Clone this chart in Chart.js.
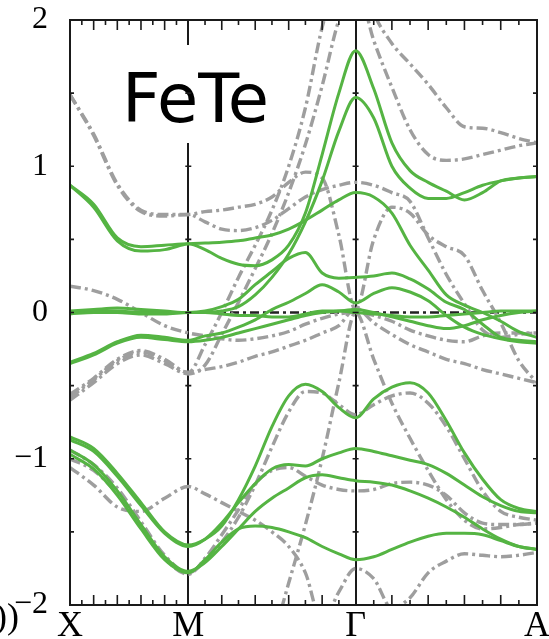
<!DOCTYPE html>
<html>
<head>
<meta charset="utf-8">
<script src="https://cdn.jsdelivr.net/npm/chart.js@4.4.1/dist/chart.umd.min.js"></script>
<style>
  html, body { margin: 0; padding: 0; background: #fff; }
</style>
</head>
<body>
<canvas id="bands" width="549" height="639"></canvas>
<script>
// high-symmetry points along the path
const symK = [0, 0.5, 1.2071, 1.9738];
const symLabels = ['X', 'M', 'Γ', 'A'];

// sampling points along X - M - Γ - A
const kPath = [0, 0.1, 0.2, 0.3, 0.4, 0.5,
  0.5707, 0.6414, 0.7121, 0.7828, 0.8536, 0.9243, 0.995, 1.0657, 1.1364, 1.2071,
  1.2838, 1.3605, 1.4371, 1.5138, 1.5905, 1.6671, 1.7438, 1.8205, 1.8971, 1.9738];

// green (solid) bands, energy in eV
const green1 = [0.87, 0.74, 0.51, 0.45, 0.46, 0.47, 0.43, 0.37, 0.33, 0.32, 0.36, 0.46, 0.68, 1.08, 1.50, 1.79, 1.53, 1.16, 0.97, 0.89, 0.83, 0.77, 0.82, 0.90, 0.92, 0.93];
const green2 = [0.87, 0.72, 0.49, 0.42, 0.43, 0.47, 0.475, 0.48, 0.49, 0.51, 0.53, 0.57, 0.63, 0.70, 0.77, 0.82, 0.79, 0.68, 0.46, 0.29, 0.12, 0.05, 0.0, -0.06, -0.13, -0.17];
const green3 = [0.01, 0.02, 0.03, 0.02, 0.01, 0.0, 0.0, 0.01, 0.04, 0.12, 0.24, 0.40, 0.62, 0.90, 1.24, 1.47, 1.33, 1.0, 0.85, 0.78, 0.78, 0.82, 0.87, 0.90, 0.92, 0.93];
const green4 = [0.0, 0.01, 0.01, 0.0, 0.0, 0.0, 0.01, 0.04, 0.09, 0.19, 0.28, 0.37, 0.41, 0.27, 0.235, 0.24, 0.25, 0.27, 0.23, 0.16, 0.07, 0.02, -0.08, -0.17, -0.19, -0.20];
const green5 = [-0.34, -0.28, -0.20, -0.155, -0.17, -0.19, -0.16, -0.14, -0.10, -0.05, 0.02, 0.07, 0.13, 0.19, 0.14, 0.065, 0.13, 0.17, 0.14, 0.08, -0.02, -0.10, -0.15, -0.18, -0.20, -0.21];
const green6 = [-0.35, -0.29, -0.21, -0.17, -0.185, -0.20, -0.19, -0.17, -0.14, -0.11, -0.08, -0.05, -0.02, 0.0, 0.01, 0.02, 0.0, -0.03, -0.06, -0.09, -0.11, -0.09, -0.05, -0.02, 0.0, 0.01];
const green7 = [-0.01, 0.0, 0.0, -0.01, -0.01, 0.0, 0.0, -0.01, -0.02, -0.02, -0.03, -0.03, -0.01, 0.01, 0.01, 0.0, -0.01, -0.02, -0.03, -0.03, -0.02, -0.01, 0.0, 0.01, 0.01, 0.01];
const green8 = [-0.85, -0.93, -1.10, -1.30, -1.50, -1.59, -1.55, -1.46, -1.28, -1.05, -0.78, -0.57, -0.49, -0.54, -0.65, -0.72, -0.59, -0.51, -0.48, -0.55, -0.74, -0.96, -1.14, -1.28, -1.34, -1.36];
const green9 = [-0.87, -0.95, -1.12, -1.32, -1.51, -1.60, -1.55, -1.44, -1.30, -1.17, -1.07, -1.04, -1.05, -1.00, -0.96, -0.93, -0.95, -0.98, -1.01, -1.04, -1.10, -1.18, -1.26, -1.32, -1.36, -1.37];
const green10 = [-0.94, -1.04, -1.22, -1.45, -1.67, -1.77, -1.71, -1.60, -1.48, -1.36, -1.27, -1.20, -1.13, -1.11, -1.13, -1.15, -1.16, -1.18, -1.22, -1.27, -1.33, -1.40, -1.48, -1.55, -1.60, -1.62];
const green11 = [-0.97, -1.07, -1.25, -1.48, -1.69, -1.78, -1.69, -1.57, -1.48, -1.46, -1.47, -1.50, -1.54, -1.60, -1.65, -1.69, -1.67, -1.62, -1.57, -1.53, -1.51, -1.51, -1.52, -1.56, -1.60, -1.62];

// grey (dash-dot) bands
const grey1 = [1.49, 1.22, 0.88, 0.70, 0.67, 0.67, 0.69, 0.70, 0.72, 0.74, 0.79, 0.89, 0.96, 0.92, 0.53, 0.02, 0.50, 0.72, 0.68, 0.53, 0.45, 0.39, 0.15, -0.07, -0.33, -0.48];
const grey2 = [1.49, 1.21, 0.87, 0.69, 0.66, 0.67, 0.62, 0.57, 0.56, 0.58, 0.63, 0.71, 0.79, 0.84, 0.87, 0.89, 0.87, 0.82, 0.76, 0.51, 0.26, 0.06, -0.12, -0.17, -0.15, -0.14];
const grey3 = [0.18, 0.15, 0.09, 0.0, -0.09, -0.14, -0.16, -0.18, -0.19, -0.18, -0.16, -0.13, -0.08, -0.04, -0.01, 0.0, -0.02, -0.06, -0.12, -0.16, -0.19, -0.20, -0.16, -0.14, -0.14, -0.14];
const grey4 = [-0.58, -0.46, -0.33, -0.27, -0.33, -0.41, -0.39, -0.37, -0.34, -0.30, -0.27, -0.23, -0.19, -0.14, -0.09, 0.03, -0.07, -0.15, -0.22, -0.27, -0.32, -0.35, -0.39, -0.42, -0.45, -0.48];
const grey5 = [-0.56, -0.45, -0.32, -0.26, -0.32, -0.41, -0.22, 0.0, 0.24, 0.46, 0.70, 1.0, 1.4, 1.95, 2.3, 2.45, 2.05, 1.84, 1.70, 1.56, 1.40, 1.27, 1.26, 1.23, 1.19, 1.16];
const grey6 = [-0.60, -0.48, -0.35, -0.29, -0.35, -0.42, -0.36, -0.15, 0.07, 0.30, 0.54, 0.82, 1.15, 1.55, 2.0, 2.25, 1.86, 1.54, 1.25, 1.08, 1.04, 1.05, 1.08, 1.11, 1.14, 1.16];
const grey7 = [-0.94, -1.04, -1.20, -1.43, -1.66, -1.78, -1.70, -1.57, -1.40, -1.18, -0.92, -0.68, -0.54, -0.55, -0.63, -0.70, -0.63, -0.57, -0.55, -0.62, -0.78, -1.00, -1.22, -1.36, -1.40, -1.42];
const grey8 = [-1.00, -1.08, -1.24, -1.46, -1.68, -1.79, -1.68, -1.52, -1.35, -1.17, -1.08, -1.06, -1.12, -1.18, -1.21, -1.22, -1.21, -1.17, -1.16, -1.18, -1.25, -1.37, -1.44, -1.45, -1.45, -1.44];
const grey9 = [-1.06, -1.18, -1.33, -1.36, -1.27, -1.19, -1.24, -1.30, -1.36, -1.42, -1.50, -1.60, -1.78, -2.12, -1.91, -1.75, -1.82, -2.02, -1.95, -1.78, -1.70, -1.65, -1.66, -1.67, -1.66, -1.64];
const grey10 = [null, null, null, null, null, null, null, null, null, -2.6, -2.25, -1.85, -1.45, -1.0, -0.48, 0.0, -0.32, -0.62, -0.86, -1.08, -1.28, -1.42, -1.48, -1.47, -1.45, -1.44];

const greenBands = [green1, green2, green3, green4, green5, green6, green7, green8, green9, green10, green11];
const greyBands = [grey1, grey2, grey3, grey4, grey5, grey6, grey7, grey8, grey9, grey10];

const GREEN = '#55b443';
const GREY = '#9e9e9e';

function toPoints(band) {
    return kPath.map((k, i) => ({ x: k, y: band[i] }));
}

const datasets = [];
greenBands.forEach(function (b) {
    datasets.push({ data: toPoints(b), borderColor: GREEN, borderWidth: 3, order: 1 });
});
greyBands.forEach(function (b) {
    datasets.push({ data: toPoints(b), borderColor: GREY, borderWidth: 3.4, borderDash: [11, 4, 3, 4], order: 2 });
});
// Fermi level
datasets.push({
    data: [{ x: symK[0], y: 0 }, { x: symK[3], y: 0 }],
    borderColor: '#222', borderWidth: 2.4, borderDash: [9, 4, 3, 4], order: 3, cubicInterpolationMode: 'default', tension: 0
});

// frame, inward ticks and the material label
const framePlugin = {
    id: 'frame',
    beforeDatasetsDraw(chart) {
        const ctx = chart.ctx;
        ctx.save();
        ctx.fillStyle = '#fff';
        ctx.fillRect(105, 45, 180, 98);
        ctx.font = '67px "DejaVu Sans"';
        const w = ctx.measureText('FeTe').width;
        ctx.translate(122, 122);
        ctx.scale(147 / w, 1);
        ctx.fillStyle = '#000';
        ctx.textBaseline = 'alphabetic';
        ctx.fillText('FeTe', 0, 0);
        ctx.restore();
    },
    afterDatasetsDraw(chart) {
        const { ctx, chartArea: a, scales: { x, y } } = chart;
        ctx.save();
        ctx.strokeStyle = '#1a1a1a';
        ctx.lineWidth = 1.6;
        ctx.beginPath();
        // ticks along k, ten per segment
        for (let s = 0; s < symK.length - 1; s++) {
            for (let j = 1; j < 10; j++) {
                const px = x.getPixelForValue(symK[s] + (symK[s + 1] - symK[s]) * j / 10);
                const len = j % 2 === 0 ? 10 : 5;
                ctx.moveTo(px, a.bottom); ctx.lineTo(px, a.bottom - len);
                ctx.moveTo(px, a.top); ctx.lineTo(px, a.top + len);
            }
        }
        // ticks along energy
        for (let e = -1.5; e <= 1.5; e += 0.5) {
            const py = y.getPixelForValue(e);
            ctx.moveTo(a.left, py); ctx.lineTo(a.left + 4, py);
            ctx.moveTo(a.right, py); ctx.lineTo(a.right - 4, py);
            [symK[1], symK[2]].forEach(function (k) {
                const px = x.getPixelForValue(k);
                ctx.moveTo(px - 3, py); ctx.lineTo(px + 3, py);
            });
        }
        ctx.stroke();
        ctx.lineWidth = 2;
        ctx.strokeRect(a.left, a.top, a.right - a.left, a.bottom - a.top);
        // clipped label fragment from the neighbouring panel
        ctx.fillStyle = '#000';
        ctx.font = '36px "Liberation Serif"';
        ctx.textAlign = 'right';
        ctx.textBaseline = 'alphabetic';
        ctx.fillText('0))', 19, 628);
        ctx.restore();
    }
};

new Chart(document.getElementById('bands'), {
    type: 'line',
    data: { datasets: datasets },
    options: {
        responsive: false,
        animation: false,
        devicePixelRatio: 1,
        layout: { padding: { top: 20, right: 12, left: 0, bottom: 0 } },
        elements: {
            point: { radius: 0 },
            line: { cubicInterpolationMode: 'monotone', fill: false }
        },
        plugins: { legend: { display: false }, tooltip: { enabled: false } },
        scales: {
            x: {
                type: 'linear',
                min: symK[0],
                max: symK[3],
                afterBuildTicks: function (axis) {
                    axis.ticks = symK.map(v => ({ value: v }));
                },
                afterFit: function (axis) {
                    axis.height = 34;
                    axis.paddingLeft = 0;
                    axis.paddingRight = 0;
                },
                ticks: {
                    autoSkip: false,
                    maxRotation: 0,
                    padding: 0,
                    color: '#000',
                    font: { family: 'Liberation Serif', size: 36 },
                    callback: function (value, index) { return symLabels[index]; }
                },
                grid: { color: '#1a1a1a', lineWidth: 2, drawTicks: false },
                border: { display: false }
            },
            y: {
                min: -2,
                max: 2,
                afterFit: function (axis) {
                    axis.width = 70;
                    axis.paddingTop = 0;
                    axis.paddingBottom = 0;
                },
                ticks: {
                    stepSize: 1,
                    padding: 14,
                    color: '#000',
                    font: { family: 'Liberation Serif', size: 32 },
                    callback: function (v) { return v < 0 ? '\u2212' + Math.abs(v) : String(v); }
                },
                grid: { display: false },
                border: { display: false }
            }
        }
    },
    plugins: [framePlugin]
});
</script>
</body>
</html>
